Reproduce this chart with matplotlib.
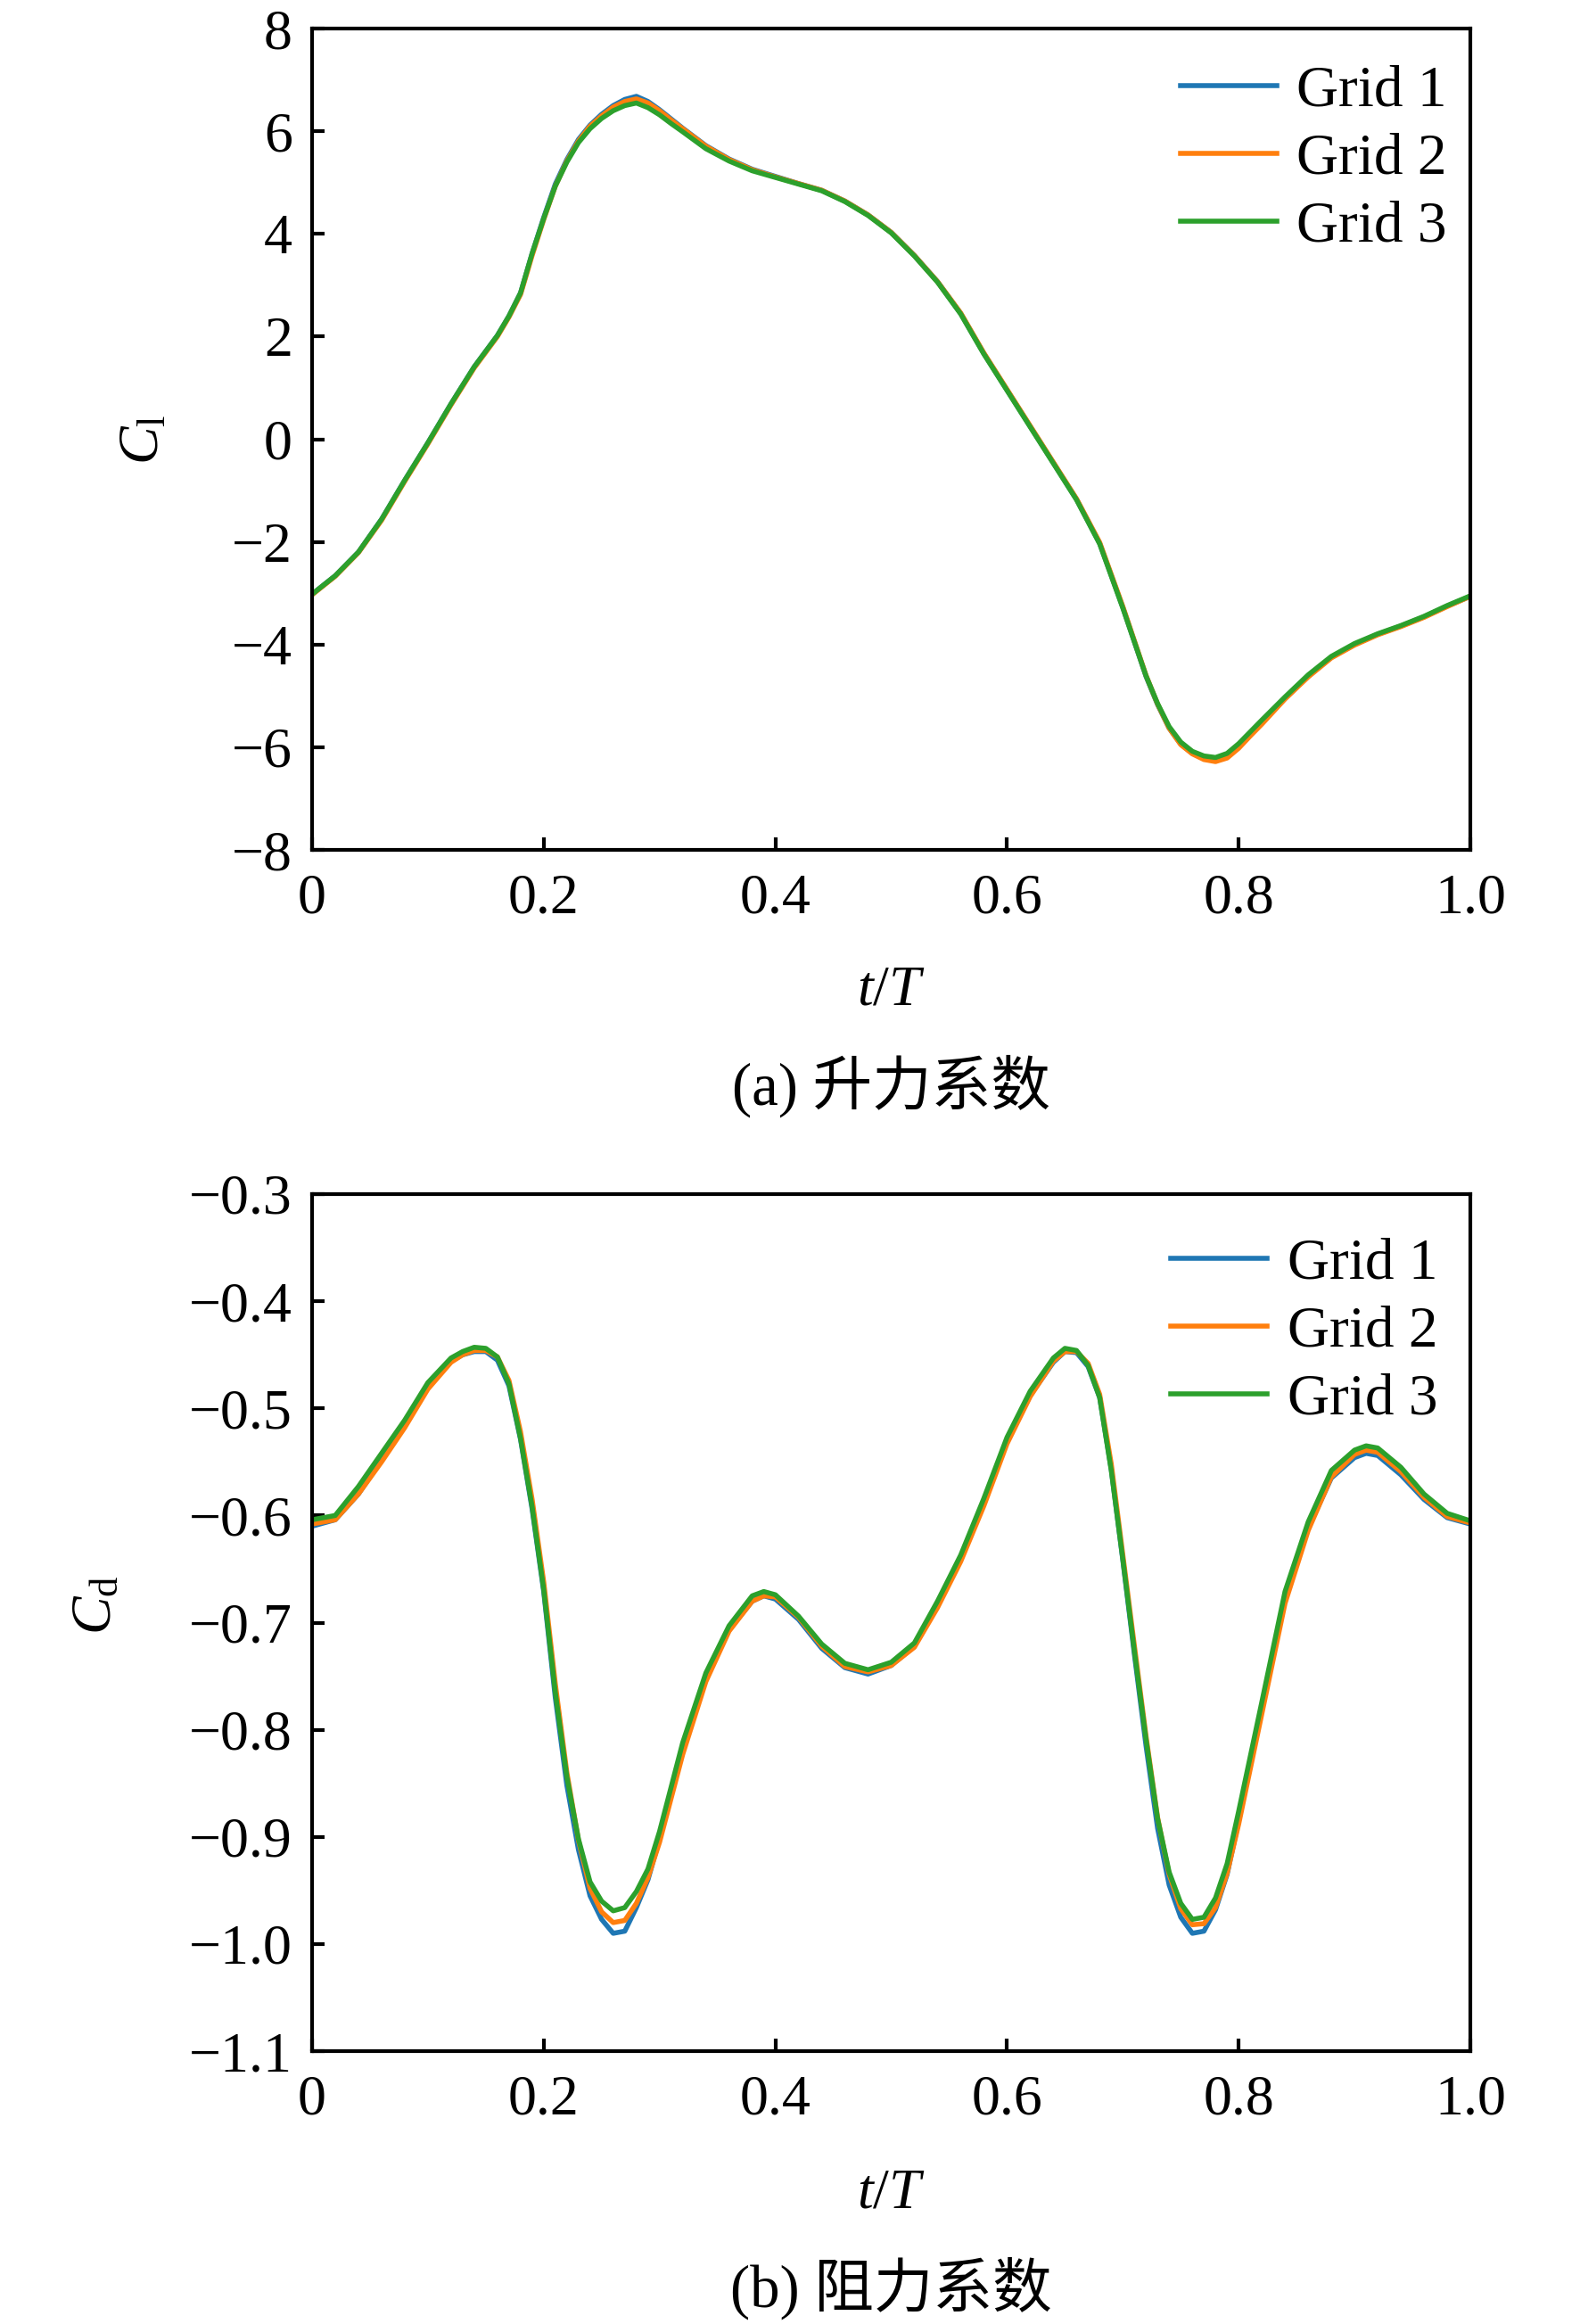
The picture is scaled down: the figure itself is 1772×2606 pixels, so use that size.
import numpy as np
import matplotlib
matplotlib.use('Agg')
import matplotlib.pyplot as plt

# Données (pas plus fin autour des extrema)
T_CL = [0.00, 0.02, 0.04, 0.06, 0.08, 0.10, 0.12, 0.14, 0.16, 0.17,
        0.18, 0.19, 0.20, 0.21, 0.22, 0.23, 0.24, 0.25, 0.26, 0.27,
        0.28, 0.29, 0.30, 0.31, 0.32, 0.34, 0.36, 0.38, 0.40, 0.42,
        0.44, 0.46, 0.48, 0.50, 0.52, 0.54, 0.56, 0.58, 0.60, 0.62,
        0.64, 0.66, 0.68, 0.70, 0.71, 0.72, 0.73, 0.74, 0.75, 0.76,
        0.77, 0.78, 0.79, 0.80, 0.81, 0.82, 0.84, 0.86, 0.88, 0.90,
        0.92, 0.94, 0.96, 0.98, 1.00]

CL_GRID1 = [-3.02, -2.66, -2.20, -1.56, -0.80, -0.07, 0.69, 1.41, 2.02, 2.40,
            2.85, 3.62, 4.32, 4.97, 5.45, 5.84, 6.12, 6.33, 6.50, 6.62,
            6.68, 6.58, 6.42, 6.24, 6.06, 5.72, 5.46, 5.26, 5.12, 4.98,
            4.85, 4.64, 4.37, 4.03, 3.58, 3.07, 2.45, 1.67, 0.96, 0.25,
            -0.46, -1.17, -2.03, -3.28, -3.95, -4.62, -5.17, -5.63, -5.94, -6.12,
            -6.22, -6.25, -6.17, -5.98, -5.75, -5.52, -5.05, -4.62, -4.25, -4.00,
            -3.80, -3.64, -3.46, -3.25, -3.06]
CL_GRID2 = [-3.03, -2.67, -2.21, -1.58, -0.82, -0.09, 0.67, 1.39, 2.00, 2.38,
            2.82, 3.58, 4.28, 4.93, 5.42, 5.81, 6.10, 6.30, 6.47, 6.58,
            6.63, 6.55, 6.40, 6.22, 6.05, 5.71, 5.45, 5.25, 5.11, 4.98,
            4.85, 4.64, 4.37, 4.03, 3.58, 3.07, 2.46, 1.68, 0.97, 0.26,
            -0.45, -1.16, -2.01, -3.26, -3.93, -4.60, -5.16, -5.63, -5.95, -6.13,
            -6.24, -6.28, -6.21, -6.02, -5.78, -5.55, -5.06, -4.63, -4.26, -4.01,
            -3.81, -3.65, -3.47, -3.26, -3.06]
CL_GRID3 = [-3.02, -2.66, -2.20, -1.56, -0.80, -0.07, 0.69, 1.41, 2.02, 2.40,
            2.85, 3.62, 4.30, 4.93, 5.40, 5.78, 6.05, 6.25, 6.40, 6.50,
            6.55, 6.46, 6.32, 6.15, 5.99, 5.66, 5.42, 5.23, 5.10, 4.97,
            4.84, 4.63, 4.36, 4.02, 3.57, 3.06, 2.44, 1.66, 0.95, 0.24,
            -0.47, -1.18, -2.04, -3.29, -3.95, -4.61, -5.15, -5.60, -5.90, -6.08,
            -6.17, -6.20, -6.12, -5.93, -5.70, -5.47, -5.02, -4.59, -4.23, -3.98,
            -3.79, -3.63, -3.45, -3.24, -3.05]

T_CD = [0.00, 0.02, 0.04, 0.06, 0.08, 0.10, 0.12, 0.13, 0.14, 0.15,
        0.16, 0.17, 0.18, 0.19, 0.20, 0.21, 0.22, 0.23, 0.24, 0.25,
        0.26, 0.27, 0.28, 0.29, 0.30, 0.32, 0.34, 0.36, 0.38, 0.39,
        0.40, 0.42, 0.44, 0.46, 0.48, 0.50, 0.52, 0.54, 0.56, 0.58,
        0.60, 0.62, 0.64, 0.65, 0.66, 0.67, 0.68, 0.69, 0.70, 0.71,
        0.72, 0.73, 0.74, 0.75, 0.76, 0.77, 0.78, 0.79, 0.80, 0.82,
        0.84, 0.86, 0.88, 0.90, 0.91, 0.92, 0.94, 0.96, 0.98, 1.00]

CD_GRID1 = [-0.610, -0.604, -0.580, -0.548, -0.516, -0.480, -0.456, -0.450, -0.447, -0.447,
            -0.455, -0.479, -0.529, -0.594, -0.671, -0.770, -0.852, -0.912, -0.955, -0.977,
            -0.990, -0.988, -0.966, -0.940, -0.902, -0.818, -0.752, -0.707, -0.680, -0.675,
            -0.678, -0.697, -0.724, -0.742, -0.748, -0.740, -0.722, -0.684, -0.641, -0.588,
            -0.531, -0.488, -0.457, -0.447, -0.448, -0.461, -0.490, -0.557, -0.642, -0.730,
            -0.815, -0.892, -0.945, -0.975, -0.990, -0.988, -0.968, -0.935, -0.885, -0.781,
            -0.678, -0.612, -0.565, -0.546, -0.542, -0.544, -0.562, -0.585, -0.602, -0.608]
CD_GRID2 = [-0.608, -0.604, -0.580, -0.550, -0.518, -0.482, -0.457, -0.450, -0.446, -0.446,
            -0.452, -0.474, -0.522, -0.585, -0.662, -0.757, -0.840, -0.903, -0.948, -0.970,
            -0.980, -0.978, -0.962, -0.938, -0.905, -0.823, -0.755, -0.708, -0.680, -0.675,
            -0.676, -0.695, -0.722, -0.741, -0.746, -0.740, -0.723, -0.686, -0.643, -0.591,
            -0.533, -0.489, -0.456, -0.447, -0.447, -0.458, -0.487, -0.552, -0.637, -0.722,
            -0.806, -0.882, -0.935, -0.967, -0.982, -0.981, -0.966, -0.934, -0.888, -0.785,
            -0.682, -0.614, -0.564, -0.543, -0.539, -0.541, -0.559, -0.583, -0.601, -0.607]
CD_GRID3 = [-0.604, -0.600, -0.573, -0.542, -0.511, -0.476, -0.453, -0.447, -0.443, -0.444,
            -0.452, -0.477, -0.528, -0.592, -0.669, -0.765, -0.844, -0.902, -0.942, -0.960,
            -0.969, -0.966, -0.951, -0.930, -0.895, -0.812, -0.747, -0.703, -0.675, -0.671,
            -0.674, -0.694, -0.720, -0.738, -0.744, -0.737, -0.719, -0.680, -0.637, -0.584,
            -0.527, -0.484, -0.453, -0.444, -0.446, -0.460, -0.490, -0.558, -0.641, -0.727,
            -0.809, -0.883, -0.933, -0.962, -0.977, -0.975, -0.957, -0.925, -0.876, -0.774,
            -0.671, -0.606, -0.558, -0.539, -0.535, -0.537, -0.555, -0.580, -0.598, -0.605]

LABELS = ['Grid 1', 'Grid 2', 'Grid 3']
COLORS = ['#1f77b4', '#ff7f0e', '#2ca02c']

X_TICKS = [0, 0.2, 0.4, 0.6, 0.8, 1.0]
X_TICKLABELS = ['0', '0.2', '0.4', '0.6', '0.8', '1.0']
CL_TICKS = [-8, -6, -4, -2, 0, 2, 4, 6, 8]
CL_TICKLABELS = ['\u22128', '\u22126', '\u22124', '\u22122', '0', '2', '4', '6', '8']
CD_TICKS = [-1.1, -1.0, -0.9, -0.8, -0.7, -0.6, -0.5, -0.4, -0.3]
CD_TICKLABELS = ['\u22121.1', '\u22121.0', '\u22120.9', '\u22120.8', '\u22120.7',
                 '\u22120.6', '\u22120.5', '\u22120.4', '\u22120.3']

plt.rcParams['font.family'] = ['Liberation Serif', 'Noto Sans CJK SC']
plt.rcParams['mathtext.fontset'] = 'custom'
plt.rcParams['mathtext.rm'] = 'Liberation Serif'
plt.rcParams['mathtext.it'] = 'Liberation Serif:italic'
plt.rcParams['font.size'] = 23

FS = 23

fig = plt.figure(figsize=(8.86, 13.03), dpi=200)
ax1 = fig.add_axes([0.1975, 0.6343, 0.7331, 0.3534])
ax2 = fig.add_axes([0.1975, 0.1174, 0.7331, 0.3688])


def style_axes(ax, yticks, yticklabels, ylim, anchor):
    """Met en forme les axes comme la figure d'origine"""
    ax.set_xlim(0, 1)
    ax.set_ylim(*ylim)
    ax.set_xticks(X_TICKS)
    ax.set_xticklabels(X_TICKLABELS)
    ax.set_yticks(yticks)
    ax.set_yticklabels(yticklabels)
    ax.tick_params(direction='in', length=5, width=1.5, labelsize=FS,
                   top=False, right=False)
    ax.tick_params(axis='x', pad=9.5)
    ax.tick_params(axis='y', pad=8)
    for spine in ax.spines.values():
        spine.set_linewidth(1.5)
    leg = ax.legend(loc='upper right', bbox_to_anchor=anchor, frameon=False,
                    fontsize=FS + 0.5, handlelength=1.65, handletextpad=0.35,
                    labelspacing=0.25, borderaxespad=0.0)
    for line in leg.get_lines():
        line.set_linewidth(2.0)


for ax, t, series in [(ax1, T_CL, [CL_GRID1, CL_GRID2, CL_GRID3]),
                      (ax2, T_CD, [CD_GRID1, CD_GRID2, CD_GRID3])]:
    for vals, lab, col in zip(series, LABELS, COLORS):
        ax.plot(t, vals, color=col, lw=2.0, label=lab)

style_axes(ax1, CL_TICKS, CL_TICKLABELS, (-8, 8), (1.0, 0.984))
style_axes(ax2, CD_TICKS, CD_TICKLABELS, (-1.1, -0.3), (0.992, 0.976))

ax1.set_ylabel(r'$C_{\mathrm{l}}$', fontsize=FS)
ax1.yaxis.set_label_coords(-0.122, 0.5)
ax2.set_ylabel(r'$C_{\mathrm{d}}$', fontsize=FS)
ax2.yaxis.set_label_coords(-0.163, 0.52)

ax1.set_xlabel(r'$t/T$', fontsize=FS)
ax1.xaxis.set_label_coords(0.5, -0.172)
ax1.xaxis.label.set_verticalalignment('center')
ax2.set_xlabel(r'$t/T$', fontsize=FS)
ax2.xaxis.set_label_coords(0.5, -0.167)
ax2.xaxis.label.set_verticalalignment('center')

fig.text(0.564, 0.5326, '(a) 升力系数', ha='center', va='center', fontsize=FS + 1)
fig.text(0.564, 0.0155, '(b) 阻力系数', ha='center', va='center', fontsize=FS + 1)

fig.savefig('out.png', dpi=200, facecolor='white')
